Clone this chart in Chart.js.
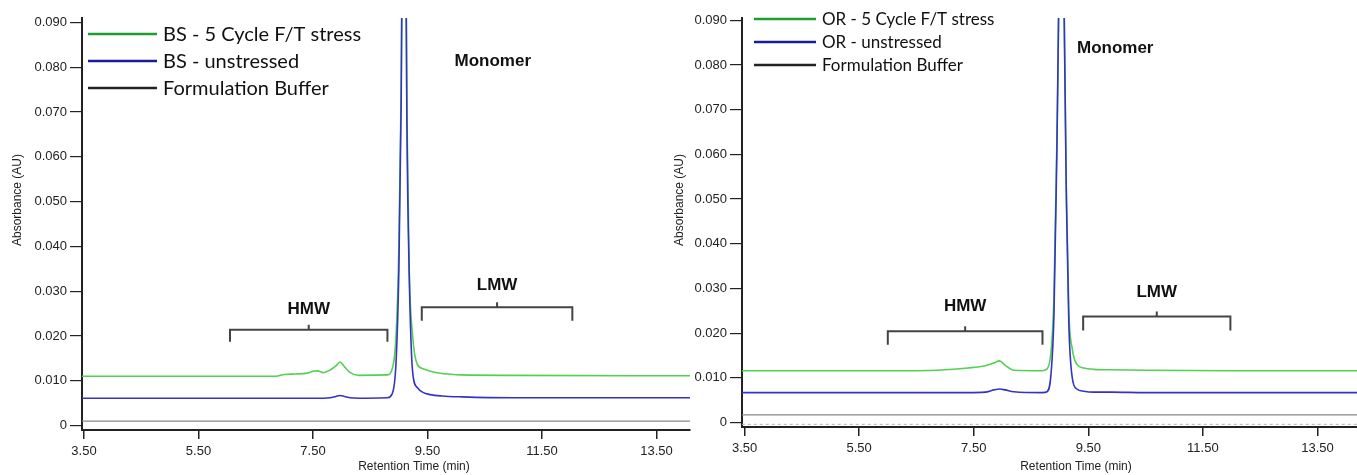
<!DOCTYPE html>
<html>
<head>
<meta charset="utf-8">
<script src="https://cdn.jsdelivr.net/npm/chart.js@4.4.1/dist/chart.umd.min.js"></script>
<style>
  html, body { margin: 0; padding: 0; background: #fff; }
  body { width: 1357px; height: 475px; position: relative; overflow: hidden; }
  canvas { position: absolute; top: 0; }
  #bsChart { left: 0; }
  #orChart { left: 665px; }
</style>
</head>
<body>
<canvas id="bsChart" width="700" height="475"></canvas>
<canvas id="orChart" width="692" height="475"></canvas>
<script>
/* === DATA === */
const xTicks = [3.5, 5.5, 7.5, 9.5, 11.5, 13.5];
const yTicks = [0, 0.01, 0.02, 0.03, 0.04, 0.05, 0.06, 0.07, 0.08, 0.09];

// BS panel (left)
const bsTime     = [3.46, 6.85, 7.0, 7.2, 7.4, 7.5, 7.58, 7.68, 7.8, 7.9, 7.97, 8.05, 8.15, 8.3, 8.8, 8.88, 8.95, 9.0, 9.04, 9.065, 9.09, 9.115, 9.14, 9.18, 9.24, 9.32, 9.42, 9.55, 9.75, 10.1, 11.0, 14.1];
const bsStressed = [0.0110, 0.0110, 0.0114, 0.0115, 0.0117, 0.0121, 0.0122, 0.0118, 0.0124, 0.0133, 0.0142, 0.0131, 0.0118, 0.0112, 0.0113, 0.0125, 0.020, 0.040, 0.075, 0.12, 0.20, 0.12, 0.07, 0.035, 0.020, 0.0137, 0.0127, 0.0121, 0.0116, 0.0113, 0.0112, 0.0111];
const bsUnstress = [0.0061, 0.0061, 0.0061, 0.0061, 0.0061, 0.0061, 0.0061, 0.0061, 0.0062, 0.0065, 0.0067, 0.0065, 0.0062, 0.0061, 0.0062, 0.0070, 0.014, 0.035, 0.072, 0.12, 0.20, 0.12, 0.068, 0.034, 0.012, 0.0085, 0.0074, 0.0069, 0.0066, 0.0064, 0.0062, 0.0062];
const bsBufTime  = [3.46, 14.1];
const bsBuffer   = [0.0010, 0.0010];

// OR panel (right)
const orTime     = [3.45, 6.5, 7.0, 7.4, 7.7, 7.85, 7.95, 8.05, 8.2, 8.7, 8.78, 8.85, 8.9, 8.94, 8.98, 9.03, 9.08, 9.12, 9.16, 9.22, 9.3, 9.42, 9.6, 9.9, 10.5, 12.0, 14.2];
const orStressed = [0.0116, 0.0116, 0.0118, 0.0122, 0.0127, 0.0133, 0.0138, 0.0128, 0.0117, 0.0116, 0.0120, 0.016, 0.028, 0.055, 0.09, 0.20, 0.09, 0.05, 0.025, 0.0165, 0.0130, 0.0122, 0.0119, 0.0118, 0.0117, 0.0116, 0.0116];
const orUnstress = [0.0067, 0.0067, 0.0067, 0.0067, 0.0068, 0.0073, 0.0075, 0.0073, 0.0069, 0.0067, 0.0069, 0.011, 0.024, 0.052, 0.09, 0.20, 0.09, 0.048, 0.022, 0.010, 0.0075, 0.0070, 0.0068, 0.0068, 0.0067, 0.0067, 0.0067];
const orBufTime  = [3.45, 14.2];
const orBuffer   = [0.0017, 0.0017];
const orZero     = [-0.0004, -0.0004];

/* === ANNOTATIONS (data units) === */
const bsBrackets = [
  { label: "HMW", from: 6.05, to: 8.80, top: 0.0214, foot: 0.0187, text: 0.0260 },
  { label: "LMW", from: 9.40, to: 12.03, top: 0.0264, foot: 0.0234, text: 0.0314 }
];
const orBrackets = [
  { label: "HMW", from: 6.00, to: 8.70, top: 0.0204, foot: 0.0174, text: 0.0260 },
  { label: "LMW", from: 9.41, to: 11.98, top: 0.0237, foot: 0.0206, text: 0.0291 }
];

const GREEN = "#52d052", BLUE = "#3434c4", GRAY = "#8a8a8a";

/* === DECOR PLUGIN === */
const panelDecor = {
  id: "panelDecor",
  afterDraw(chart, args, o){
    const ctx = chart.ctx, x = chart.scales.x, y = chart.scales.y;
    ctx.save();

    // legend
    o.legend.items.forEach((it, i) => {
      const ly = o.legend.y + i*o.legend.dy;
      ctx.strokeStyle = it.color; ctx.lineWidth = 2.5;
      ctx.beginPath(); ctx.moveTo(o.legend.x, ly); ctx.lineTo(o.legend.x + o.legend.len, ly); ctx.stroke();
      ctx.fillStyle = "#111"; ctx.font = o.legend.font;
      ctx.textAlign = "left"; ctx.textBaseline = "middle";
      ctx.fillText(it.label, o.legend.x + o.legend.len + 6, ly + 1);
    });

    // brackets
    ctx.strokeStyle = "#444"; ctx.lineWidth = 2;
    ctx.fillStyle = "#111"; ctx.font = "bold 17px 'Liberation Sans', Arial, sans-serif";
    ctx.textAlign = "center"; ctx.textBaseline = "middle";
    o.brackets.forEach(b => {
      const x0 = x.getPixelForValue(b.from), x1 = x.getPixelForValue(b.to);
      const yt = y.getPixelForValue(b.top), yf = y.getPixelForValue(b.foot);
      const xm = (x0 + x1)/2;
      ctx.beginPath();
      ctx.moveTo(x0, yf); ctx.lineTo(x0, yt); ctx.lineTo(x1, yt); ctx.lineTo(x1, yf);
      ctx.moveTo(xm, yt); ctx.lineTo(xm, yt - 5);
      ctx.stroke();
      ctx.fillText(b.label, xm, y.getPixelForValue(b.text));
    });
    ctx.fillText("Monomer", x.getPixelForValue(o.monomer[0]), y.getPixelForValue(o.monomer[1]));

    // axis titles
    ctx.font = "12px 'Liberation Sans', Arial, sans-serif";
    ctx.fillStyle = "#222";
    ctx.fillText("Retention Time (min)", o.xTitle[0], o.xTitle[1]);
    ctx.translate(o.yTitle[0], o.yTitle[1]);
    ctx.rotate(-Math.PI/2);
    ctx.fillText("Absorbance (AU)", 0, 0);
    ctx.restore();
  }
};

function series(time, values, color, width, dash){
  return {
    data: time.map((t, i) => ({ x: t, y: values[i] })),
    borderColor: color, borderWidth: width, borderDash: dash || [],
    pointRadius: 0, fill: false, cubicInterpolationMode: "monotone"
  };
}

function makeChart(id, cfg){
  const tickFont = { family: "'Liberation Sans', Arial, sans-serif", size: 13 };
  return new Chart(document.getElementById(id), {
    type: "line",
    data: { datasets: cfg.datasets },
    options: {
      responsive: false, animation: false,
      layout: { padding: cfg.padding },
      plugins: { legend: { display: false }, tooltip: { enabled: false }, panelDecor: cfg.decor },
      scales: {
        x: {
          type: "linear", min: cfg.xMin, max: cfg.xMax,
          afterBuildTicks: a => { a.ticks = xTicks.map(v => ({ value: v })); },
          afterFit: a => { a.height = cfg.xAxisH; },
          grid: { drawOnChartArea: false, tickLength: 9, color: "#222", lineWidth: 1.5 },
          border: { color: "#222", width: 2 },
          ticks: { font: tickFont, color: "#222", padding: 5, maxRotation: 0, callback: v => v.toFixed(2) }
        },
        y: {
          min: -0.001, max: cfg.yMax,
          afterBuildTicks: a => { a.ticks = yTicks.map(v => ({ value: v })); },
          afterFit: a => { a.width = cfg.yAxisW; },
          grid: { drawOnChartArea: false, tickLength: 12, color: "#222", lineWidth: 1.2 },
          border: { color: "#222", width: 2 },
          ticks: { font: tickFont, color: "#222", padding: 3, callback: v => v === 0 ? "0" : v.toFixed(3) }
        }
      }
    },
    plugins: [panelDecor]
  });
}

/* === BUILD === */
makeChart("bsChart", {
  padding: { top: 18, right: 10, left: 0, bottom: 0 },
  xMin: 3.465, xMax: 14.085, yMax: 0.091, xAxisH: 45, yAxisW: 82,
  datasets: [
    series(bsTime, bsUnstress, BLUE, 1.6),
    series(bsTime, bsStressed, GREEN, 1.6),
    series(bsBufTime, bsBuffer, GRAY, 1.3)
  ],
  decor: {
    legend: { x: 88, y: 34, dy: 27, len: 69, font: "20px Lato, 'Open Sans', sans-serif",
      items: [ { label: "BS - 5 Cycle F/T stress", color: "#1e9e2e" },
               { label: "BS - unstressed", color: "#1a1a9a" },
               { label: "Formulation Buffer", color: "#222" } ] },
    brackets: bsBrackets, monomer: [10.64, 0.0814],
    xTitle: [414, 467], yTitle: [18, 200]
  }
});

makeChart("orChart", {
  padding: { top: 18, right: 0, left: 0, bottom: 0 },
  xMin: 3.455, xMax: 14.19, yMax: 0.0905, xAxisH: 48, yAxisW: 77,
  datasets: [
    series(orTime, orUnstress, BLUE, 1.6),
    series(orTime, orStressed, GREEN, 1.6),
    series(orBufTime, orBuffer, GRAY, 1.3),
    series(orBufTime, orZero, "#b0b0b0", 1, [3, 3])
  ],
  decor: {
    legend: { x: 89, y: 19, dy: 23, len: 62, font: "17px Lato, 'Open Sans', sans-serif",
      items: [ { label: "OR - 5 Cycle F/T stress", color: "#1e9e2e" },
               { label: "OR - unstressed", color: "#1a1a9a" },
               { label: "Formulation Buffer", color: "#222" } ] },
    brackets: orBrackets, monomer: [9.97, 0.0838],
    xTitle: [411, 467], yTitle: [15, 200]
  }
});
</script>
</body>
</html>
